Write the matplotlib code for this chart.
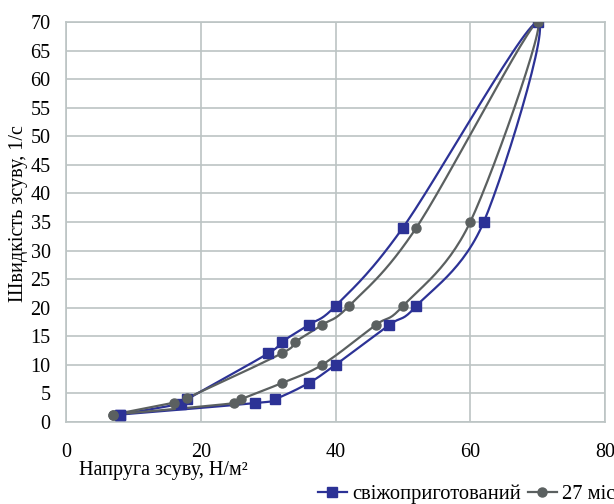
import numpy as np
import matplotlib
matplotlib.use("Agg")
import matplotlib.pyplot as plt

# свіжоприготований: вгору по верхній гілці, вниз по нижній
fresh_x = [8, 17, 18, 30, 32, 36, 40, 50, 70, 62, 52, 48, 40, 36, 31, 28, 8]
fresh_y = [1.3, 3.2, 4, 12, 14, 17, 20.3, 34, 70, 35, 20.3, 17, 10, 6.8, 4, 3.3, 1.3]

# 27 міс
aged_x = [7, 16, 18, 32, 34, 38, 42, 52, 70, 60, 50, 46, 38, 32, 26, 25, 7]
aged_y = [1.3, 3.4, 4.2, 12, 14, 17, 20.3, 34, 70, 35, 20.3, 17, 10, 6.8, 4, 3.3, 1.3]

x_ticks = [0, 20, 40, 60, 80]
y_ticks = list(range(0, 75, 5))

blue = "#2c3296"
gray = "#5b6060"
grid_c = "#bcc4c4"


def smooth(xs, ys, n=30):
    # згладжування як в Excel (Catmull-Rom через криві Безьє)
    p = np.column_stack([xs, ys]).astype(float)
    p = np.vstack([p[0], p, p[-1]])
    t = np.linspace(0, 1, n)[:, None]
    out = []
    for i in range(1, len(p) - 2):
        p0, p1, p2, p3 = p[i - 1], p[i], p[i + 1], p[i + 2]
        c1 = p1 + (p2 - p0) / 6
        c2 = p2 - (p3 - p1) / 6
        seg = ((1 - t) ** 3) * p1 + 3 * ((1 - t) ** 2) * t * c1 + 3 * (1 - t) * t ** 2 * c2 + t ** 3 * p2
        out.append(seg)
    s = np.vstack(out)
    return s[:, 0], s[:, 1]


plt.rcParams["font.family"] = ["Liberation Serif", "DejaVu Serif"]
plt.rcParams["font.size"] = 14.5

fig = plt.figure(figsize=(6.14, 5.04), dpi=100)
ax = fig.add_axes([66 / 614, 1 - 422 / 504, 539 / 614, 400 / 504])

for xs, ys, c, m, ms, lab in [(fresh_x, fresh_y, blue, "s", 7, "свіжоприготований"),
                              (aged_x, aged_y, gray, "o", 6.5, "27 міс")]:
    sx, sy = smooth(xs, ys)
    ax.plot(sx, sy, color=c, lw=1.6, zorder=3)
    ax.plot(xs, ys, ls="none", marker=m, ms=ms, color=c, zorder=4)
    ax.plot([], [], color=c, lw=1.6, marker=m, ms=ms, label=lab)

ax.set_xlim(0, 80)
ax.set_ylim(0, 70)
ax.set_xticks(x_ticks)
ax.set_yticks(y_ticks)
ax.grid(True, color=grid_c, lw=1.2)
ax.set_axisbelow(True)
for sp in ax.spines.values():
    sp.set_color(grid_c)
    sp.set_linewidth(1.2)
ax.tick_params(axis="both", length=0, colors="black")
ax.tick_params(axis="x", pad=15)
ax.tick_params(axis="y", pad=11)

fig.text(19 / 614, 1 - 214 / 504, "Швидкість зсуву, 1/с", rotation=90,
         ha="center", va="center")
fig.text(79 / 614, 1 - 471 / 504, "Напруга зсуву, Н/м²", ha="left", va="center")

fig.legend(loc="center left", bbox_to_anchor=(318 / 614, 1 - 494 / 504),
           ncol=2, frameon=False, borderpad=0, borderaxespad=0, fontsize=14.8,
           handlelength=1.4, handletextpad=0.25, columnspacing=0.35)

fig.savefig("out.png", dpi=100)
